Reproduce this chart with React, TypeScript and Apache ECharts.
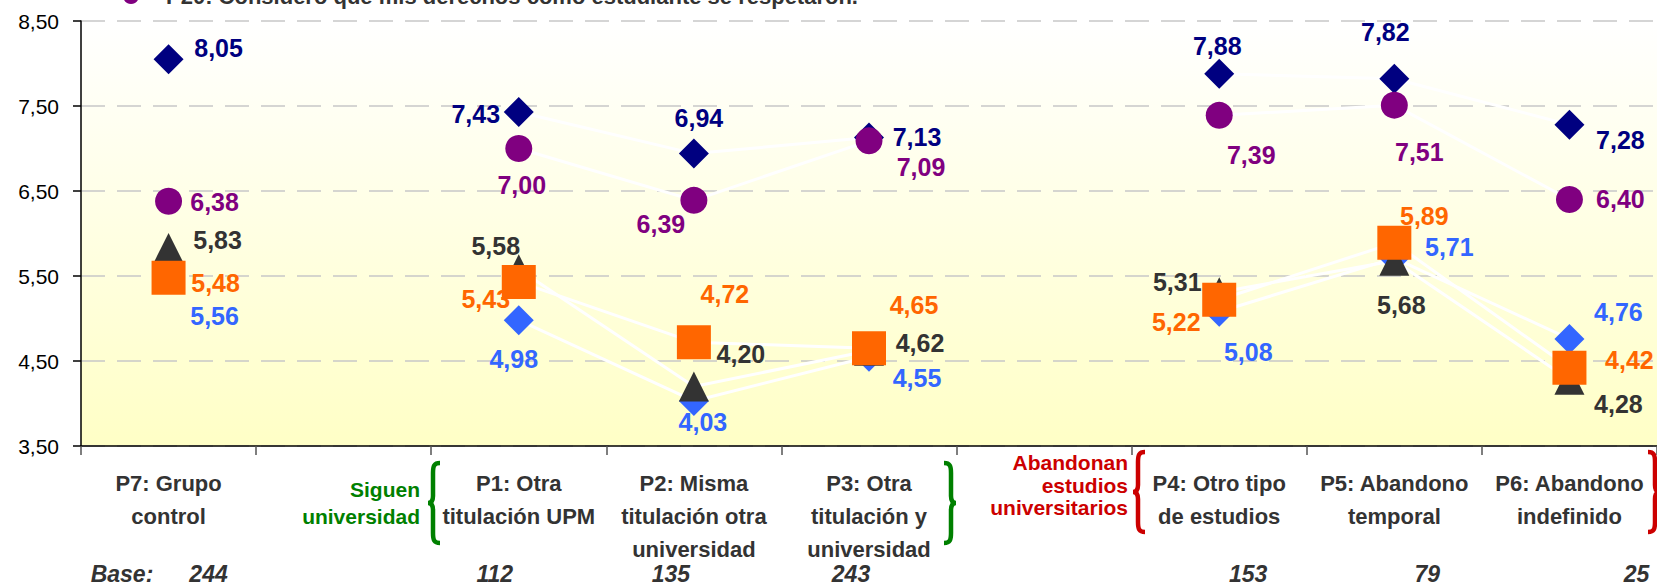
import React, { useEffect, useRef } from "react";
import * as echarts from "echarts";

// ---------- data ----------
const categories = [
  "P7: Grupo\ncontrol",
  "",
  "P1: Otra\ntitulación UPM",
  "P2: Misma\ntitulación otra\nuniversidad",
  "P3: Otra\ntitulación y\nuniversidad",
  "",
  "P4: Otro tipo\nde estudios",
  "P5: Abandono\ntemporal",
  "P6: Abandono\nindefinido",
];
const yMin = 3.5;
const yMax = 8.5;
const yStep = 1;

const navyValues = [8.05, null, 7.43, 6.94, 7.13, null, 7.88, 7.82, 7.28];
const purpleValues = [6.38, null, 7.0, 6.39, 7.09, null, 7.39, 7.51, 6.4];
const blueValues = [5.56, null, 4.98, 4.03, 4.55, null, 5.08, 5.71, 4.76];
const blackValues = [5.83, null, 5.58, 4.2, 4.62, null, 5.31, 5.68, 4.28];
const orangeValues = [5.48, null, 5.43, 4.72, 4.65, null, 5.22, 5.89, 4.42];
const baseCounts = [244, null, 112, 135, 243, null, 153, 79, 25];

const legendText = "P20: Considero que mis derechos como estudiante se respetaron.";
const groupStay = "Siguen\nuniversidad";
const groupLeave = "Abandonan\nestudios\nuniversitarios";

// ---------- layout (label offsets in px, relative to each marker) ----------
const navyOffsets = [[50, -11], null, [-43, 2], [5, -36], [48, 0], null, [-2, -28], [-9, -47], [51, 15]];
const purpleOffsets = [[46, 1], null, [3, 36], [-33, 24], [52, 26], null, [32, 40], [25, 47], [51, -1]];
const blueOffsets = [[46, 45], null, [-5, 39], [9, 21], [48, 21], null, [29, 40], [55, -11], [49, -27]];
const blackOffsets = [[49, -8], null, [-23, -23], [47, -33], [51, -8], null, [-42, -10], [7, 44], [49, 24]];
const orangeOffsets = [[47, 5], null, [-33, 17], [31, -48], [45, -43], null, [-43, 22], [30, -27], [60, -8]];
const baseLabelDx = [40, 0, -24, -23, -18, 0, 29, 33, 67];

const FONT = "'Liberation Sans', Arial, Helvetica, sans-serif";

const braceLeftD = "M12,0 C6,0 5,3 5,10 L5,33 C5,38 3,40 0,40 C3,40 5,42 5,47 L5,70 C5,77 6,80 12,80";
const braceRightD = "M0,0 C6,0 7,3 7,10 L7,33 C7,38 9,40 12,40 C9,40 7,42 7,47 L7,70 C7,77 6,80 0,80";
echarts.graphic.registerShape("braceL", echarts.graphic.extendPath(braceLeftD, {}));
echarts.graphic.registerShape("braceR", echarts.graphic.extendPath(braceRightD, {}));

const fmt = (v: number) => v.toFixed(2).replace(".", ",");

const seriesDefs = [
  { name: "Serie 1", values: navyValues, offsets: navyOffsets, color: "#000080", symbol: "diamond", size: 30 },
  { name: legendText, values: purpleValues, offsets: purpleOffsets, color: "#800080", symbol: "circle", size: 27 },
  { name: "Serie 3", values: blueValues, offsets: blueOffsets, color: "#3366FF", symbol: "diamond", size: 30 },
  { name: "Serie 4", values: blackValues, offsets: blackOffsets, color: "#333333", symbol: "triangle", size: 30 },
  { name: "Serie 5", values: orangeValues, offsets: orangeOffsets, color: "#FF6600", symbol: "rect", size: 34 },
];

export default function App() {
  const ref = useRef<HTMLDivElement>(null);

  useEffect(() => {
    if (!ref.current) return;
    const chart = echarts.init(ref.current, null, { renderer: "svg" });

    const lineSeries = seriesDefs.map((d) => ({
      type: "line",
      name: d.name + " ",
      data: d.values,
      symbol: "none",
      showSymbol: false,
      connectNulls: false,
      silent: true,
      z: 1,
      lineStyle: { color: "#FFFFFF", width: 3 },
    }));

    const scatterSeries = seriesDefs.map((d) => ({
      type: "scatter",
      name: d.name,
      symbol: d.symbol,
      symbolSize: d.size,
      z: 3,
      itemStyle: { color: d.color, opacity: 1 },
      label: {
        show: true,
        position: "inside",
        color: d.color,
        fontSize: 25,
        fontWeight: "bold",
        fontFamily: FONT,
        textBorderWidth: 0,
        formatter: (p: any) => fmt(p.value[1]),
      },
      data: d.values
        .map((v, i) =>
          v == null ? null : { value: [i, v], label: { offset: d.offsets[i] } }
        )
        .filter(Boolean),
    }));

    chart.setOption({
      animation: false,
      backgroundColor: "#FFFFFF",
      textStyle: { fontFamily: FONT },
      grid: {
        left: 81,
        top: 21,
        width: 1578,
        height: 425,
        show: true,
        borderWidth: 0,
        backgroundColor: new echarts.graphic.LinearGradient(0, 0, 0, 1, [
          { offset: 0, color: "#FFFFFF" },
          { offset: 1, color: "#FFFFC6" },
        ]),
      },
      xAxis: {
        type: "category",
        data: categories,
        boundaryGap: true,
        axisLine: { show: true, lineStyle: { color: "#000000", width: 1.5 } },
        axisTick: { show: true, interval: 0, length: 9, lineStyle: { color: "#555555", width: 1.5 } },
        axisLabel: {
          interval: 0,
          margin: 21,
          fontSize: 22,
          fontWeight: "bold",
          color: "#333333",
          lineHeight: 33,
          fontFamily: FONT,
        },
        splitLine: { show: false },
      },
      yAxis: {
        type: "value",
        min: yMin,
        max: yMax,
        interval: yStep,
        axisLine: { show: true, lineStyle: { color: "#000000", width: 1.5 } },
        axisTick: { show: true, length: 8, lineStyle: { color: "#000000", width: 1.5 } },
        axisLabel: { margin: 22, fontSize: 21, color: "#000000", fontFamily: FONT, formatter: (v: number) => fmt(v) },
        splitLine: { show: true, lineStyle: { type: [24, 12], color: "#C8C8C8", width: 1.5 } },
      },
      series: [...lineSeries, ...scatterSeries],
    });

    const txt = (text: string, x: number, y: number, font: string, fill: string, align: string, vAlign = "middle", lineHeight?: number) => ({
      type: "text",
      x,
      y,
      z: 20,
      silent: true,
      style: { text, font, fill, textAlign: align, textVerticalAlign: vAlign, lineHeight },
    });

    const baseGraphics = baseCounts
      .map((n, i) =>
        n == null
          ? null
          : txt(
              String(n),
              (chart.convertToPixel({ xAxisIndex: 0 }, i) as number) + baseLabelDx[i],
              574,
              `italic bold 23px ${FONT}`,
              "#333333",
              "center"
            )
      )
      .filter(Boolean);

    const graphics: any[] = [
      { type: "circle", z: 20, silent: true, shape: { cx: 131, cy: -4, r: 8 }, style: { fill: "#800080" } },
      txt(legendText, 166, -4, `bold 22px ${FONT}`, "#333333", "left"),
      txt(groupStay, 420, 503, `bold 21px ${FONT}`, "#008000", "right", "middle", 27),
      txt(groupLeave, 1128, 485, `bold 21px ${FONT}`, "#CC0000", "right", "middle", 22.5),
      { type: "braceL", z: 20, silent: true, x: 428, y: 463, style: { fill: "none", stroke: "#008000", lineWidth: 4.5 } },
      { type: "braceR", z: 20, silent: true, x: 944, y: 463, style: { fill: "none", stroke: "#008000", lineWidth: 4.5 } },
      { type: "braceL", z: 20, silent: true, x: 1133, y: 452, style: { fill: "none", stroke: "#CC0000", lineWidth: 4.5 } },
      { type: "braceR", z: 20, silent: true, x: 1648, y: 452, style: { fill: "none", stroke: "#CC0000", lineWidth: 4.5 } },
      txt("Base:", 122, 574, `italic bold 23px ${FONT}`, "#333333", "center"),
      ...baseGraphics,
    ];
    chart.setOption({ graphic: graphics });

    return () => chart.dispose();
  }, []);

  return (
    <div
      ref={ref}
      style={{ position: "absolute", left: 0, top: 0, width: 1657, height: 586 }}
    />
  );
}
